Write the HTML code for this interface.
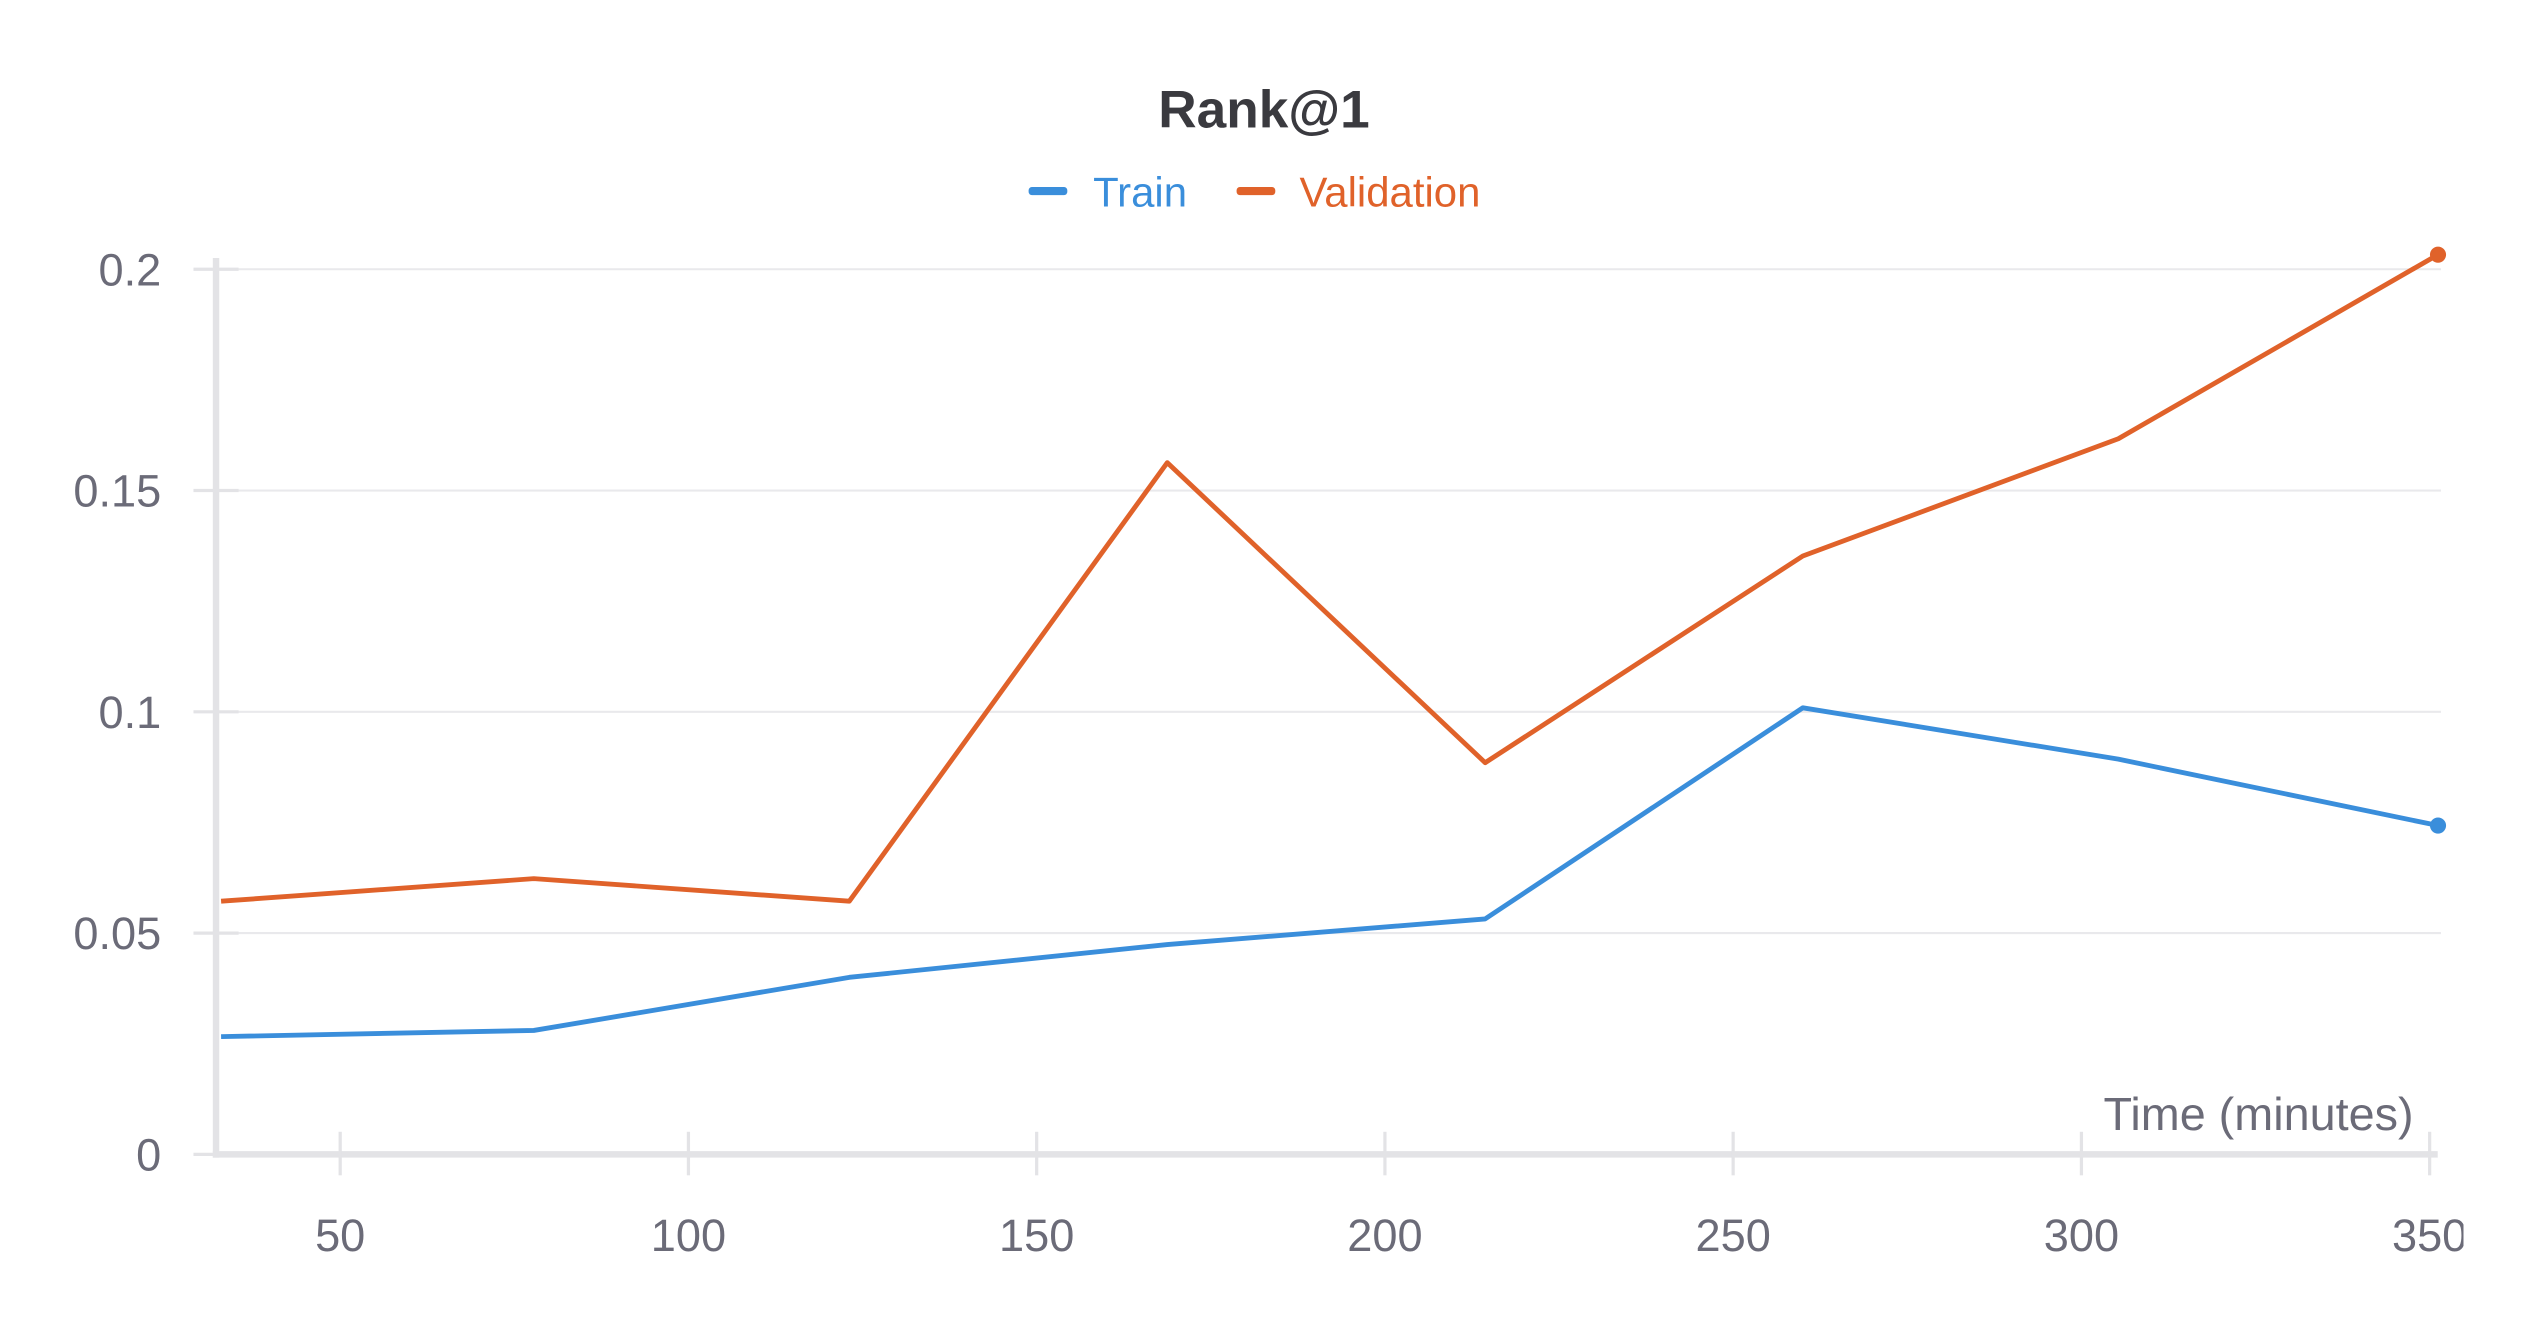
<!DOCTYPE html>
<html><head><meta charset="utf-8"><style>
html,body{margin:0;padding:0;background:#fff;width:2528px;height:1328px;overflow:hidden}
svg{display:block}
text{font-family:"Liberation Sans",sans-serif}
</style></head><body>
<svg id="chart" width="2528" height="1328" viewBox="0 0 1568 823.7" preserveAspectRatio="none" xmlns="http://www.w3.org/2000/svg">
<defs><clipPath id="clip"><rect x="0" y="0" width="1528" height="823.7"/></clipPath></defs>
<text x="784" y="79" text-anchor="middle" font-size="33" font-weight="bold" fill="#3a3a3f">Rank@1</text>
<g>
<g><rect x="638" y="116" width="24" height="5" rx="2" fill="#3a8edb"/><text x="678" y="128" font-size="26" fill="#3a8edb">Train</text></g>
<g><rect x="767" y="116" width="24" height="5" rx="2" fill="#e0622a"/><text x="806" y="128" font-size="26" fill="#e0622a">Validation</text></g>
</g>
<g id="grid"></g>
<g id="axes" clip-path="url(#clip)"></g>
<g id="series"></g>
</svg>
<script>
const xTicks=[50,100,150,200,250,300,350];
const yTicks=[0,0.05,0.1,0.15,0.2];
const yTickLabels=["0","0.05","0.1","0.15","0.2"];
const times=[32.9,77.8,123.1,168.75,214.4,260,305.3,351.2];
const trainValues=[0.0266,0.028,0.040,0.0474,0.0532,0.1009,0.0893,0.0743];
const validationValues=[0.0572,0.0623,0.0572,0.1563,0.0885,0.1352,0.1617,0.2033];
const NS="http://www.w3.org/2000/svg";
function xs(t){return 211+(t-50)*4.32;}
function ys(v){return 716-v*2745;}
function mk(tag,attrs,parent){const e=document.createElementNS(NS,tag);for(const k in attrs)e.setAttribute(k,attrs[k]);parent.appendChild(e);return e;}
const grid=document.getElementById('grid'),axes=document.getElementById('axes'),series=document.getElementById('series');
yTicks.forEach((v,i)=>{
  if(v>0){const g=mk('line',{x1:134,x2:1514,y1:ys(v),y2:ys(v),stroke:'#e9e9ec','stroke-width':1.3},grid);
  
  }
  const tk=mk('line',{x1:120,x2:148,y1:ys(v),y2:ys(v),stroke:'#e3e3e6','stroke-width':2},axes);
  
  
  const t=mk('text',{x:100,y:ys(v)+10,'text-anchor':'end','font-size':28,fill:'#6b6b78'},axes);
  t.textContent=yTickLabels[i];
  
  
});
const ya=mk('line',{x1:134,x2:134,y1:160,y2:718,stroke:'#e3e3e6','stroke-width':4},axes);


const xa=mk('line',{x1:132,x2:1512,y1:716,y2:716,stroke:'#e3e3e6','stroke-width':4},axes);


xTicks.forEach(v=>{
  const tk=mk('line',{x1:xs(v),x2:xs(v),y1:702,y2:729,stroke:'#e3e3e6','stroke-width':2},axes);
  
  
  const t=mk('text',{x:xs(v),y:776,'text-anchor':'middle','font-size':28,fill:'#6b6b78'},axes);
  t.textContent=String(v);
  
  
});
const xt=mk('text',{x:1497,y:701,'text-anchor':'end','font-size':29,fill:'#6b6b78'},axes);
xt.textContent='Time (minutes)';


function drawLine(vals,color,name){
  const pts=vals.map((v,i)=>xs(times[i])+','+ys(v)).join(' ');
  const p=mk('polyline',{points:pts,fill:'none',stroke:color,'stroke-width':3,'stroke-linejoin':'round'},series);
  
  
  const n=vals.length-1;
  const c=mk('circle',{cx:xs(times[n]),cy:ys(vals[n]),r:5,fill:color},series);
  
  
}
drawLine(trainValues,'#3a8edb','train');
drawLine(validationValues,'#e0622a','validation');
</script>
</body></html>
